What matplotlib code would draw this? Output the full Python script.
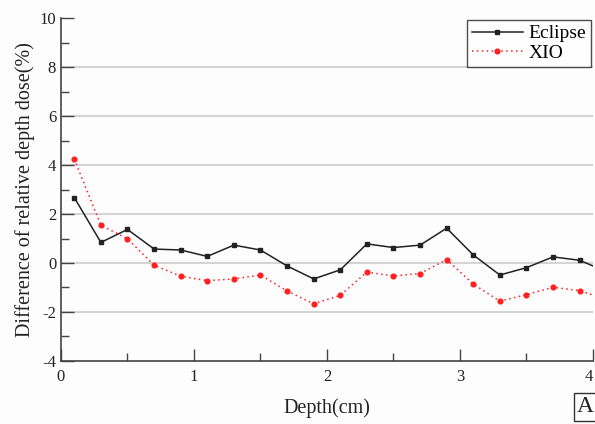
import matplotlib
matplotlib.use("Agg")
import matplotlib.pyplot as plt
from matplotlib.ticker import MultipleLocator

plt.rcParams['font.family'] = ['Liberation Serif', 'DejaVu Serif']
plt.rcParams['axes.unicode_minus'] = False

depth = [0.1, 0.3, 0.5, 0.7, 0.9, 1.1, 1.3, 1.5, 1.7, 1.9, 2.1, 2.3, 2.5, 2.7, 2.9,
         3.1, 3.3, 3.5, 3.7, 3.9, 4.1]
eclipse = [2.67, 0.84, 1.37, 0.57, 0.53, 0.27, 0.73, 0.53, -0.12, -0.65, -0.28, 0.78,
           0.63, 0.73, 1.42, 0.33, -0.49, -0.19, 0.25, 0.11, -0.35]
xio = [4.24, 1.54, 0.99, -0.09, -0.54, -0.72, -0.65, -0.49, -1.14, -1.67, -1.32, -0.37,
       -0.53, -0.43, 0.14, -0.86, -1.56, -1.29, -0.99, -1.13, -1.49]
grid_y = [-2, 0, 2, 4, 6, 8]
xticks = [0, 1, 2, 3, 4]
xtick_labels = ['0', '1', '2', '3', '4']

fig = plt.figure(figsize=(5.95, 4.24), dpi=100)
fig.patch.set_facecolor('#fdfdfd')
ax = fig.add_axes([0.1025, 0.1486, 0.8941, 0.8089])
ax.set_facecolor('#fdfdfd')

for gy in grid_y:
    ax.axhline(gy, color='#d4d4d4', lw=1.5, zorder=0)

ax.plot(depth, eclipse, color='#222222', lw=1.1, marker='s', ms=3.2, label='Eclipse')
ax.plot(depth, xio, color='#ff2020', lw=1.1, ls=(0, (1, 2.2)), marker='o', ms=3.4,
        label='XIO')

ax.set_xlim(0, 4)
ax.set_ylim(-4, 10)
ax.set_xticks(xticks, xtick_labels[:-1] + [''])
ax.xaxis.set_minor_locator(MultipleLocator(0.5))
ax.yaxis.set_major_locator(MultipleLocator(2))
ax.yaxis.set_minor_locator(MultipleLocator(1))

for s in ['top', 'right']:
    ax.spines[s].set_visible(False)
for s in ['left', 'bottom']:
    ax.spines[s].set_color('#444444')
    ax.spines[s].set_linewidth(1.2)

ax.tick_params(which='major', direction='in', length=9, width=1, colors='#444444',
               labelcolor='#222222', labelsize=12)
ax.tick_params(which='minor', direction='in', length=5.5, width=1, colors='#444444')
ax.tick_params(axis='x', pad=6)

# last x tick label, nudged left so it stays inside the figure
ax.annotate(xtick_labels[-1], xy=(xticks[-1], 0), xycoords=('data', 'axes fraction'),
            xytext=(-3, -6), textcoords='offset points', ha='center', va='top',
            fontsize=12, color='#222222')

ax.set_xlabel('Depth(cm)', fontsize=14.5, color='#222222', labelpad=9)
ax.set_ylabel('Difference of relative depth dose(%)', fontsize=14.5, color='#222222',
              labelpad=3)

leg = ax.legend(loc='upper right', fontsize=14, frameon=True, fancybox=False,
                edgecolor='#222222', borderaxespad=0.1, handlelength=2.6,
                borderpad=0.25, labelspacing=0.1, handletextpad=0.3)
leg.get_frame().set_linewidth(1.0)

fig.text(0.9985, 0.016, 'A', fontsize=17, ha='right', va='bottom', color='#222222',
         bbox=dict(boxstyle='square,pad=0.15', fc='#fdfdfd', ec='#333333', lw=1))

fig.savefig('out.png', dpi=100, facecolor=fig.get_facecolor())
